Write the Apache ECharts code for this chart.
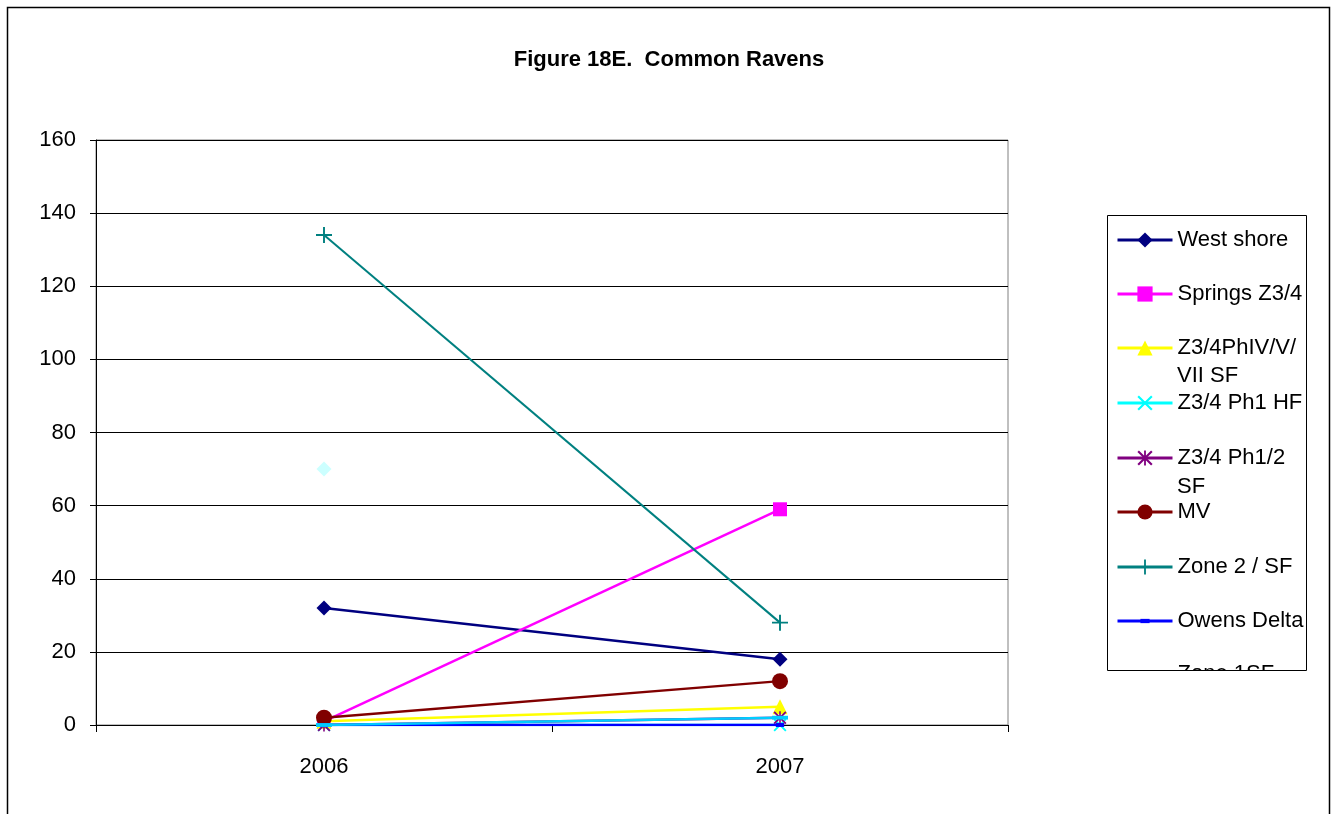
<!DOCTYPE html>
<html>
<head>
<meta charset="utf-8">
<title>Figure 18E. Common Ravens</title>
<script src="https://cdn.jsdelivr.net/npm/echarts@6/dist/echarts.min.js"></script>
<style>
  html, body { margin: 0; padding: 0; background: #fff; }
  #chart { width: 1338px; height: 814px; }
</style>
</head>
<body>
<div id="chart"></div>
<script>
// Survey years
var categories = ['2006', '2007'];

// Raven counts per survey area
var westShore   = [32, 18];
var springsZ34  = [1, 59];
var z34PhIVSF   = [1, 5];
var z34Ph1HF    = [0, 0];
var z34Ph12SF   = [0, 2];
var mv          = [2, 12];
var zone2SF     = [134, 28];
var owensDelta  = [0, 0];
var zone1SF     = [0, 2];
var series10    = [70, null];

// Axis ticks
var yMin = 0, yMax = 160, yStep = 20;

var FONT = "'Liberation Sans', Arial, sans-serif";

// Marker shapes drawn as filled outlines (leading moves fix the 10x10 box)
var X_PATH = 'path://M0,1 L1,0 L5,4 L9,0 L10,1 L6,5 L10,9 L9,10 L5,6 L1,10 L0,9 L4,5 Z';
var STAR_PATH = 'path://M0,1 L1,0 L5,4 L9,0 L10,1 L6,5 L10,9 L9,10 L5,6 L1,10 L0,9 L4,5 Z M4.4,0 L5.6,0 L5.6,10 L4.4,10 Z';
var PLUS_PATH = 'path://M4.4,0 L5.6,0 L5.6,4.4 L10,4.4 L10,5.6 L5.6,5.6 L5.6,10 L4.4,10 L4.4,5.6 L0,5.6 L0,4.4 L4.4,4.4 Z';
var SHORT_DASH = 'path://M0,0 M10,10 M2,3.6 L8,3.6 L8,6.4 L2,6.4 Z';
var LONG_DASH = 'path://M0,0 M10,10 M0,3.8 L10,3.8 L10,6.2 L0,6.2 Z';

var seriesDefs = [
  { name: 'West shore',        data: westShore,  color: '#000080', symbol: 'diamond',  size: 15, width: 2.5 },
  { name: 'Springs Z3/4',      data: springsZ34, color: '#FF00FF', symbol: 'rect',     size: 14, width: 2.5 },
  { name: 'Z3/4PhIV/V/VII SF', data: z34PhIVSF,  color: '#FFFF00', symbol: 'triangle', size: 15, width: 2.5 },
  { name: 'Z3/4 Ph1 HF',       data: z34Ph1HF,   color: '#00FFFF', symbol: X_PATH,     size: 13, width: 2.5 },
  { name: 'Z3/4 Ph1/2 SF',     data: z34Ph12SF,  color: '#800080', symbol: STAR_PATH,  size: 13, width: 2.5 },
  { name: 'MV',                data: mv,         color: '#800000', symbol: 'circle',   size: 16, width: 2.5 },
  { name: 'Zone 2 / SF',       data: zone2SF,    color: '#008080', symbol: PLUS_PATH,  size: 16, width: 2 },
  { name: 'Owens Delta',       data: owensDelta, color: '#0000FF', symbol: SHORT_DASH, size: 14, width: 2.5 },
  { name: 'Zone 1SF',          data: zone1SF,    color: '#00CCFF', symbol: LONG_DASH,  size: 16, width: 2.5 },
  { name: 'Series 10',         data: series10,   color: '#CCFFFF', symbol: 'diamond',  size: 15, width: 2.5 }
];

var series = seriesDefs.map(function (d, i) {
  return {
    name: d.name,
    type: 'line',
    data: d.data,
    symbol: d.symbol,
    symbolSize: d.size,
    showSymbol: true,
    connectNulls: false,
    z: 2 + i,
    lineStyle: { color: d.color, width: d.width },
    itemStyle: { color: d.color, borderWidth: 0 },
    emphasis: { disabled: true },
    animation: false
  };
});

// Legend rows: one legend per entry so rows keep a fixed pitch
var legendRows = [
  { name: 'West shore',        label: 'West shore',   y: 240 },
  { name: 'Springs Z3/4',      label: 'Springs Z3/4', y: 294 },
  { name: 'Z3/4PhIV/V/VII SF', label: 'Z3/4PhIV/V/',  y: 348 },
  { name: 'Z3/4 Ph1 HF',       label: 'Z3/4 Ph1 HF',  y: 403 },
  { name: 'Z3/4 Ph1/2 SF',     label: 'Z3/4 Ph1/2',   y: 458 },
  { name: 'MV',                label: 'MV',           y: 512 },
  { name: 'Zone 2 / SF',       label: 'Zone 2 / SF',  y: 567 },
  { name: 'Owens Delta',       label: 'Owens Delta',  y: 621 },
  { name: 'Zone 1SF',          label: 'Zone 1SF',     y: 674 }
];

var legends = legendRows.map(function (r) {
  return {
    data: [r.name],
    left: 1111,
    top: r.y - 16,
    padding: 5,
    itemWidth: 55,
    itemHeight: 19,
    selectedMode: false,
    lineStyle: { width: 3 },
    formatter: function () { return r.label; },
    textStyle: { fontFamily: FONT, fontSize: 22, color: '#000', lineHeight: 22 }
  };
});

var option = {
  backgroundColor: '#fff',
  animation: false,
  title: {
    text: 'Figure 18E.  Common Ravens',
    left: 'center',
    top: 44,
    textStyle: { fontFamily: FONT, fontSize: 22, fontWeight: 'bold', color: '#000' }
  },
  legend: legends,
  grid: {
    left: 96, right: 330, top: 140, bottom: 89,
    show: true, borderColor: '#808080', borderWidth: 1,
    containLabel: false
  },
  xAxis: {
    type: 'category',
    data: categories,
    boundaryGap: true,
    axisLine: { lineStyle: { color: '#000', width: 1 } },
    axisTick: { show: true, alignWithLabel: false, length: 7, lineStyle: { color: '#000' } },
    axisLabel: { margin: 31, fontFamily: FONT, fontSize: 22, color: '#000' },
    splitLine: { show: false }
  },
  yAxis: {
    type: 'value',
    min: yMin, max: yMax, interval: yStep,
    axisLine: { show: true, lineStyle: { color: '#000', width: 1 } },
    axisTick: { show: true, length: 6, lineStyle: { color: '#000' } },
    axisLabel: { margin: 20, fontFamily: FONT, fontSize: 22, color: '#000' },
    splitLine: { show: true, lineStyle: { color: '#000', width: 1 } }
  },
  graphic: [
    // outer chart frame
    { type: 'rect', z: 0, silent: true,
      shape: { x: 7.5, y: 7.5, width: 1322, height: 830 },
      style: { fill: null, stroke: '#000', lineWidth: 1.5 } },
    // continuation lines of wrapped legend labels
    { type: 'text', z: 50, silent: true, left: 1177, top: 365,
      style: { text: 'VII SF', font: '22px ' + FONT, fill: '#000' } },
    { type: 'text', z: 50, silent: true, left: 1177, top: 476,
      style: { text: 'SF', font: '22px ' + FONT, fill: '#000' } },
    // legend box clip below the frame
    { type: 'rect', z: 90, silent: true,
      shape: { x: 1100, y: 671, width: 220, height: 40 },
      style: { fill: '#fff' } },
    // legend frame
    { type: 'rect', z: 100, silent: true,
      shape: { x: 1107.5, y: 215.5, width: 199, height: 455 },
      style: { fill: null, stroke: '#000', lineWidth: 1 } }
  ],
  series: series
};

var chart = echarts.init(document.getElementById('chart'), null, { renderer: 'canvas' });
chart.setOption(option);
</script>
</body>
</html>
